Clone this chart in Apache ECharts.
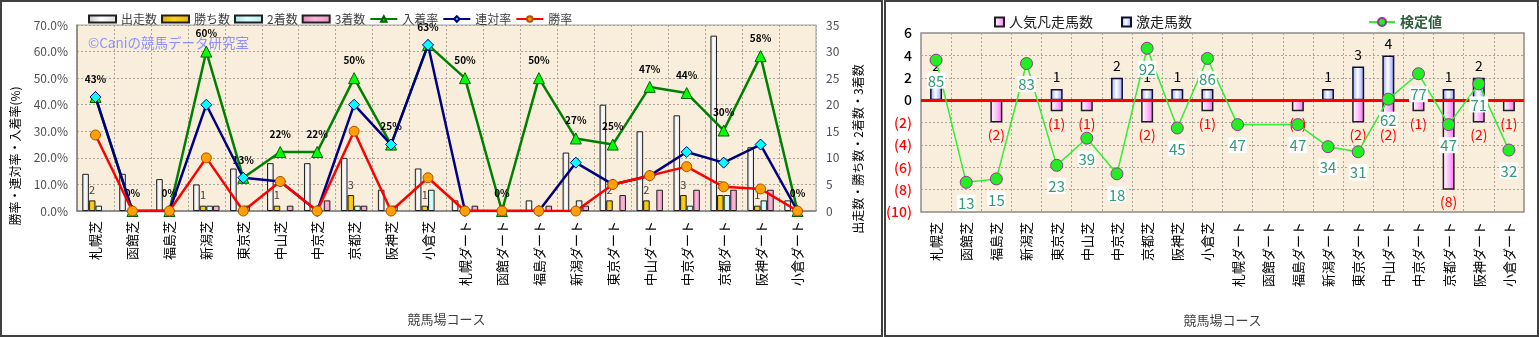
<!DOCTYPE html>
<html>
<head>
<meta charset="utf-8">
<script src="https://cdn.jsdelivr.net/npm/echarts@6/dist/echarts.min.js"></script>
<style>
  html, body { margin: 0; padding: 0; background: #fff; width: 1539px; height: 337px; overflow: hidden; }
  #left  { position: absolute; left: 0;     top: 0; width: 883px; height: 337px; }
  #right { position: absolute; left: 884px; top: 0; width: 655px; height: 337px; }
  .frame { position: absolute; top: 0; height: 337px; border: 2px solid #404040; box-sizing: border-box; pointer-events: none; }
</style>
</head>
<body>
<div id="left"></div>
<div id="right"></div>
<div class="frame" style="left:0;width:883px"></div>
<div class="frame" style="left:884px;width:655px"></div>
<script>
// Racecourse / surface combinations
const categories = ['札幌芝','函館芝','福島芝','新潟芝','東京芝','中山芝','中京芝','京都芝','阪神芝','小倉芝',
                    '札幌ダート','函館ダート','福島ダート','新潟ダート','東京ダート','中山ダート','中京ダート','京都ダート','阪神ダート','小倉ダート'];

// Counts (right axis of the left chart)
const starts  = [7, 7, 6, 5, 8, 9, 9, 10, 4, 8, 2, 0, 2, 11, 20, 15, 18, 33, 12, 2];
const wins    = [2, 0, 0, 1, 0, 1, 0, 3, 0, 1, 0, 0, 0, 0, 2, 2, 3, 3, 1, 0];
const seconds = [1, 0, 0, 1, 1, 0, 0, 1, 1, 4, 0, 0, 0, 2, 0, 0, 1, 3, 2, 0];
const thirds  = [0, 0, 0, 1, 0, 1, 2, 1, 0, 0, 1, 0, 1, 1, 3, 4, 4, 4, 4, 0];

// Rates in % (left axis of the left chart)
const placeRate    = [42.9, 0, 0, 60, 12.5, 22.2, 22.2, 50, 25, 62.5, 50, 0, 50, 27.3, 25, 46.7, 44.4, 30.3, 58.3, 0];
const quinellaRate = [42.9, 0, 0, 40, 12.5, 11.1, 0, 40, 25, 62.5, 0, 0, 0, 18.2, 10, 13.3, 22.2, 18.2, 25, 0];
const winRate      = [28.6, 0, 0, 20, 0, 11.1, 0, 30, 0, 12.5, 0, 0, 0, 0, 10, 13.3, 16.7, 9.1, 8.3, 0];

// Right chart: favourites that ran badly (negative), longshots that ran well, test value
const favouriteFlops = [0, 0, -2, 0, -1, -1, 0, -2, 0, -1, 0, 0, -1, 0, -2, -2, -1, -8, -2, -1];
const longshotHits   = [2, 0, 0, 0, 1, 0, 2, 1, 1, 1, 0, 0, 0, 1, 3, 4, 0, 1, 2, 0];
const testValue      = [85, 13, 15, 83, 23, 39, 18, 92, 45, 86, 47, null, 47, 34, 31, 62, 77, 47, 71, 32];

// Axis ticks
const rateAxis  = { min: 0, max: 70, interval: 10 };
const countAxis = { min: 0, max: 35, interval: 5 };
const diffAxis  = { min: -10, max: 6, interval: 2 };

const FONT = '"Noto Sans CJK JP", "Noto Sans", sans-serif';
const PLOT_BG = '#f8eedb';
const GRID_LINE = { type: [2, 2], color: '#aaa49a', width: 1 };

const hGrad = (a, b, c) => ({
  type: 'linear', x: 0, y: 0, x2: 1, y2: 0,
  colorStops: [{ offset: 0, color: a }, { offset: 0.45, color: b }, { offset: 1, color: c }]
});
const noZero = arr => arr.map(v => (v === 0 ? null : v));

// vertical axis title, reading bottom to top
const sideTitle = (text, x, y) => ({
  type: 'text', x, y, rotation: Math.PI / 2, z: 10,
  style: { text, align: 'center', verticalAlign: 'middle', fill: '#000', font: '12px ' + FONT }
});

// ---------------- left chart ----------------
const left = echarts.init(document.getElementById('left'), null, { renderer: 'canvas' });

const countBar = (name, data, color, labelOn) => ({
  name, type: 'bar', yAxisIndex: 1, data: noZero(data),
  barWidth: 6.6, barGap: '0%',
  itemStyle: { color, borderColor: '#202020', borderWidth: 1 },
  label: labelOn ? {
    show: true, position: 'top', distance: 5, fontSize: 11, color: '#404040', fontFamily: FONT,
    formatter: p => (p.value > 0 ? String(p.value) : '')
  } : { show: false },
  z: 2
});

left.setOption({
  animation: false,
  textStyle: { fontFamily: FONT },
  graphic: [
    { type: 'text', left: 88, top: 36, z: 1,
      style: { text: '©Caniの競馬データ研究室', fill: '#8f8fff', font: '13.5px ' + FONT } },
    sideTitle('勝率・連対率・入着率(%)', 15, 156),
    sideTitle('出走数・勝ち数・2着数・3着数', 858, 149)
  ],
  legend: {
    left: 83, top: 8, itemWidth: 27, itemHeight: 7, itemGap: 4,
    textStyle: { fontSize: 12, color: '#404040', fontFamily: FONT },
    data: [
      { name: '出走数', icon: 'rect' }, { name: '勝ち数', icon: 'rect' },
      { name: '2着数', icon: 'rect' }, { name: '3着数', icon: 'rect' },
      { name: '入着率' }, { name: '連対率' }, { name: '勝率' }
    ]
  },
  grid: {
    left: 77, top: 25, width: 739, height: 186, outerBoundsMode: 'none',
    show: true, backgroundColor: PLOT_BG, borderColor: '#a0a0a0', borderWidth: 1
  },
  xAxis: {
    type: 'category', data: categories,
    axisLine: { show: true, onZero: false, lineStyle: { color: '#808080', width: 1.5 } },
    axisTick: { show: false },
    axisLabel: { rotate: 90, interval: 0, fontSize: 13, color: '#000', margin: 10, fontFamily: FONT },
    splitLine: { show: true, interval: 0, lineStyle: GRID_LINE },
    name: '競馬場コース', nameLocation: 'middle', nameGap: 102,
    nameTextStyle: { fontSize: 13, color: '#404040', fontFamily: FONT }
  },
  yAxis: [{
    type: 'value', ...rateAxis,
    axisLine: { show: true, lineStyle: { color: '#808080', width: 1.5 } },
    axisTick: { show: false },
    axisLabel: { formatter: v => v.toFixed(1) + '%', fontSize: 12, color: '#505050', margin: 9, fontFamily: FONT },
    splitLine: { show: true, lineStyle: GRID_LINE }
  }, {
    type: 'value', position: 'right', ...countAxis,
    axisLine: { show: false }, axisTick: { show: false },
    axisLabel: { fontSize: 12, color: '#505050', margin: 10, fontFamily: FONT },
    splitLine: { show: false }
  }],
  series: [
    countBar('出走数', starts, hGrad('#c4c4c4', '#ffffff', '#dedede'), false),
    countBar('勝ち数', wins, hGrad('#e0a800', '#ffd21a', '#e8b400'), true),
    countBar('2着数', seconds, hGrad('#a8e4e4', '#dcffff', '#b8eeee'), false),
    countBar('3着数', thirds, hGrad('#e088b8', '#ffb4dc', '#e898c4'), false),
    {
      name: '入着率', type: 'line', data: placeRate, z: 3,
      symbol: 'triangle', symbolSize: 11,
      lineStyle: { color: '#008000', width: 2.5 },
      itemStyle: { color: '#00ff00', borderColor: '#006000', borderWidth: 1 },
      label: {
        show: true, position: 'top', distance: 7, fontSize: 10, fontWeight: 'bold', color: '#000',
        fontFamily: FONT, formatter: p => Math.round(p.value) + '%'
      }
    },
    {
      name: '連対率', type: 'line', data: quinellaRate, z: 4,
      symbol: 'diamond', symbolSize: 11,
      lineStyle: { color: '#000080', width: 2.5 },
      itemStyle: { color: '#00ffff', borderColor: '#000080', borderWidth: 1 }
    },
    {
      name: '勝率', type: 'line', data: winRate, z: 5,
      symbol: 'circle', symbolSize: 10,
      lineStyle: { color: '#ff0000', width: 2.5 },
      itemStyle: { color: '#ffa000', borderColor: '#b05000', borderWidth: 1 }
    }
  ]
});

// ---------------- right chart ----------------
const right = echarts.init(document.getElementById('right'), null, { renderer: 'canvas' });

const legendText = { fontSize: 14, color: '#202020', fontFamily: FONT };

right.setOption({
  animation: false,
  textStyle: { fontFamily: FONT },
  legend: [
    { data: [{ name: '人気凡走馬数', icon: 'rect' }], left: 105, top: 10, itemWidth: 9, itemHeight: 9, itemGap: 3, textStyle: legendText },
    { data: [{ name: '激走馬数', icon: 'rect' }], left: 232, top: 10, itemWidth: 9, itemHeight: 9, itemGap: 3, textStyle: legendText },
    { data: [{ name: '検定値' }], left: 479, top: 10, itemWidth: 26, itemHeight: 10,
      textStyle: { fontSize: 14, color: '#2f5f3f', fontWeight: 'bold', fontFamily: FONT } }
  ],
  grid: {
    left: 37, top: 33, width: 603, height: 179, outerBoundsMode: 'none',
    show: true, backgroundColor: PLOT_BG, borderColor: '#8c8c8c', borderWidth: 1.5
  },
  xAxis: {
    type: 'category', data: categories,
    axisLine: { show: false, onZero: false },
    axisTick: { show: false },
    axisLabel: { rotate: 90, interval: 0, fontSize: 13, color: '#000', margin: 10, fontFamily: FONT },
    splitLine: { show: true, interval: 0, lineStyle: GRID_LINE },
    name: '競馬場コース', nameLocation: 'middle', nameGap: 102,
    nameTextStyle: { fontSize: 13, color: '#404040', fontFamily: FONT }
  },
  yAxis: [{
    type: 'value', ...diffAxis,
    axisLine: { show: false }, axisTick: { show: false },
    axisLabel: {
      fontSize: 14, margin: 9, fontFamily: FONT, fontWeight: 500,
      formatter: v => (v < 0 ? '(' + (-v) + ')' : String(v)),
      color: v => (Number(v) < 0 ? '#ff0000' : '#000')
    },
    splitLine: { show: true, lineStyle: GRID_LINE }
  }, {
    type: 'value', min: -4.5, max: 101, show: false, splitLine: { show: false }
  }],
  series: [
    {
      name: '人気凡走馬数', type: 'bar', data: noZero(favouriteFlops),
      barWidth: 12, barGap: '-100%', z: 2,
      itemStyle: { color: hGrad('#ffffff', '#ffc8ff', '#ff70f0'), borderColor: '#202020', borderWidth: 1.5 },
      label: {
        show: true, position: 'bottom', distance: 5, fontSize: 14, color: '#ff0000', fontFamily: FONT,
        formatter: p => (p.value < 0 ? '(' + (-p.value) + ')' : '')
      }
    },
    {
      name: '激走馬数', type: 'bar', data: noZero(longshotHits),
      barWidth: 12, barGap: '-100%', z: 2,
      itemStyle: { color: hGrad('#8f9cff', '#ffffff', '#8f9cff'), borderColor: '#101030', borderWidth: 1.5 },
      label: {
        show: true, position: 'top', distance: 5, fontSize: 14, color: '#000', fontFamily: FONT,
        formatter: p => (p.value > 0 ? String(p.value) : '')
      },
      markLine: {
        silent: true, symbol: 'none', z: 3,
        label: { show: false },
        lineStyle: { color: '#ff0000', width: 3, type: 'solid' },
        data: [{ yAxis: 0 }]
      }
    },
    {
      name: '検定値', type: 'line', yAxisIndex: 1, data: testValue, connectNulls: true, z: 5,
      symbol: 'circle', symbolSize: 12,
      lineStyle: { color: '#33ee33', width: 1.5 },
      itemStyle: { color: '#22ee22', borderColor: '#993399', borderWidth: 1 },
      label: {
        show: true, position: 'bottom', distance: 6, fontSize: 15, color: '#339977', fontFamily: FONT,
        backgroundColor: '#ffffff', padding: [1, 1, 0, 1]
      }
    }
  ]
});
</script>
</body>
</html>
